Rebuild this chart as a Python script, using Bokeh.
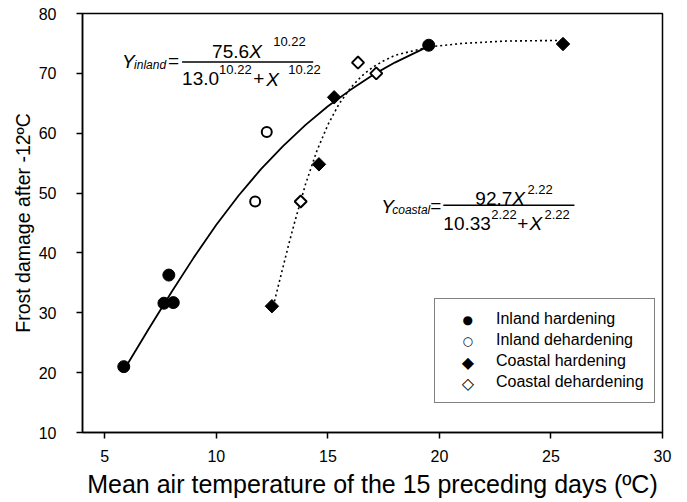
import numpy as np
from bokeh.plotting import figure
from bokeh.models import Range1d, FixedTicker, Legend, LegendItem, Label, BoxAnnotation
from bokeh.embed import file_html
from bokeh.resources import INLINE

# ---- data ----
inland_hard_x = [5.85, 7.65, 7.87, 8.07, 19.52]
inland_hard_y = [21.0, 31.6, 36.3, 31.7, 74.7]
inland_dehard_x = [11.74, 12.26]
inland_dehard_y = [48.6, 60.2]
coastal_hard_x = [12.49, 14.6, 15.28, 25.54]
coastal_hard_y = [31.1, 54.8, 66.0, 74.9]
coastal_dehard_x = [13.78, 16.35, 17.17]
coastal_dehard_y = [48.6, 71.8, 70.0]

# fitted curves
solid_x = [5.85, 6.5, 7, 8, 9, 10, 11, 12, 13, 14, 15, 16, 17, 18, 19.5]
solid_y = [20.4, 24.4, 27.5, 33.5, 39.3, 44.7, 49.6, 54.0, 57.9, 61.4, 64.5, 67.2, 69.7, 71.8, 74.5]
dotted_x = [12.5, 12.75, 13, 13.25, 13.5, 14, 14.5, 15, 15.5, 16, 16.5, 17, 17.5, 18, 19.5, 21, 23, 25.5]
dotted_y = [30.3, 34.1, 37.8, 41.5, 45.0, 51.5, 57.0, 61.4, 64.9, 67.5, 69.5, 71.0, 72.1, 73.0, 74.4, 75.0, 75.4, 75.5]

x_ticks = [5, 10, 15, 20, 25, 30]
y_ticks = [10, 20, 30, 40, 50, 60, 70, 80]
legend_labels = ["Inland hardening", "Inland dehardening", "Coastal hardening", "Coastal dehardening"]
legend_symbols = ["●", "○", "◆", "◇"]

X0, X1, Y0, Y1 = 4, 30, 10, 80
FONT = "Liberation Sans"

p = figure(width=687, height=502, output_backend="svg", toolbar_location=None,
           x_range=Range1d(X0, X1), y_range=Range1d(Y0, Y1),
           min_border_left=82, min_border_right=25, min_border_top=13, min_border_bottom=70)
p.background_fill_color = "white"
p.border_fill_color = "white"
p.outline_line_color = "black"
p.outline_line_width = 1.5
p.xgrid.visible = False
p.ygrid.visible = False

for ax, ticks in ((p.xaxis[0], x_ticks), (p.yaxis[0], y_ticks)):
    ax.ticker = FixedTicker(ticks=ticks)
    ax.minor_tick_line_color = None
    ax.major_tick_in = 0
    ax.major_tick_out = 6
    ax.major_tick_line_width = 1.5
    ax.axis_line_width = 1.5
    ax.major_label_text_font = FONT
    ax.major_label_text_font_size = "16px"
    ax.major_label_text_color = "black"
    ax.axis_label_text_font = FONT
    ax.axis_label_text_font_style = "normal"
    ax.axis_label_text_color = "black"

p.xaxis.axis_label = "Mean air temperature of the 15 preceding days (ºC)"
p.xaxis.axis_label_text_font_size = "25px"
p.xaxis.major_label_standoff = 11
p.xaxis.axis_label_standoff = 5
p.yaxis.axis_label = "Frost damage after -12ºC"
p.yaxis.axis_label_text_font_size = "19.5px"
p.yaxis.major_label_standoff = 20
p.yaxis.axis_label_standoff = 2

# curves
p.line(solid_x, solid_y, line_color="black", line_width=1.8)
p.line(dotted_x, dotted_y, line_color="black", line_width=1.6, line_dash="2 3")

# points
p.scatter(inland_hard_x, inland_hard_y, marker="circle", size=12,
          fill_color="black", line_color="black")
p.scatter(inland_dehard_x, inland_dehard_y, marker="circle", size=10,
          fill_color="white", line_color="black", line_width=2)
p.scatter(coastal_hard_x, coastal_hard_y, marker="square", angle=np.pi / 4, size=9.5,
          fill_color="black", line_color="black")
p.scatter(coastal_dehard_x, coastal_dehard_y, marker="square", angle=np.pi / 4, size=8.5,
          fill_color="white", line_color="black", line_width=2)

# ---- legend: native legend for the texts, symbols drawn as text glyphs ----
LEG_LEFT, LEG_BOTTOM, LEG_PAD, LEG_GW, LEG_ROW = 352, 29, 10, 44, 21
legend = Legend(items=[LegendItem(label=l) for l in legend_labels],
                location=(LEG_LEFT, LEG_BOTTOM), margin=0, padding=LEG_PAD, spacing=1,
                glyph_width=LEG_GW, glyph_height=20, label_height=20, label_standoff=7,
                label_text_font=FONT, label_text_font_size="16px", label_text_color="black",
                border_line_color="black", border_line_width=1.5, background_fill_alpha=0)
p.add_layout(legend)

L, R, T, B = 82.5, 662.0, 13.5, 432.0


def dx(px):
    return X0 + (px - L) * (X1 - X0) / (R - L)


def dy(py):
    return Y1 - (py - T) * (Y1 - Y0) / (B - T)


sym_sizes = [12, 12, 16, 16]
sym_styles = ["normal", "bold", "normal", "bold"]
leg_top = B - LEG_BOTTOM - (4 * 20 + 3 + 2 * LEG_PAD)
for i, sym in enumerate(legend_symbols):
    cx = L + LEG_LEFT + LEG_PAD + LEG_GW / 2 + 1
    cy = leg_top + LEG_PAD + 10 + i * LEG_ROW
    p.add_layout(Label(x=dx(cx), y=dy(cy), text=sym, text_font="DejaVu Sans",
                       text_font_size=f"{sym_sizes[i]}px", text_font_style=sym_styles[i],
                       text_align="center", text_baseline="middle", text_color="black"))


# ---- equations (positions given in screen pixels, converted to data units) ----
def lab(text, px, py, size, italic=False):
    p.add_layout(Label(x=dx(px), y=dy(py), text=text, text_font=FONT,
                       text_font_size=f"{size}px",
                       text_font_style="italic" if italic else "normal",
                       text_baseline="alphabetic", text_align="left", text_color="black"))


def bar(px0, px1, py):
    p.add_layout(BoxAnnotation(left=dx(px0), right=dx(px1), top=dy(py - 0.7), bottom=dy(py + 0.7),
                               fill_color="black", fill_alpha=1, line_alpha=0))


BIG, SUB, SUP = 19, 12, 13
# inland equation
lab("Y", 122, 61, BIG, True)
lab("inland", 134, 65, SUB, True)
lab("=", 168, 60, BIG)
bar(182, 313, 62)
lab("75.6", 212, 51, BIG)
lab("X", 249, 51, BIG, True)
lab("10.22", 273, 41, SUP)
lab("13.0", 182, 78, BIG)
lab("10.22", 219, 69, SUP)
lab("+", 253, 78, BIG)
lab("X", 266, 79, BIG, True)
lab("10.22", 288, 69, SUP)

# coastal equation
lab("Y", 381, 206, BIG, True)
lab("coastal", 392, 210, SUB, True)
lab("=", 430, 205, BIG)
bar(443, 574, 205)
lab("92.7", 475, 198, BIG)
lab("X", 512, 198, BIG, True)
lab("2.22", 527, 189, SUP)
lab("10.33", 443, 223, BIG)
lab("2.22", 491, 214, SUP)
lab("+", 517, 223, BIG)
lab("X", 529, 223, BIG, True)
lab("2.22", 544, 214, SUP)

open("out.html", "w").write(file_html(p, INLINE))
